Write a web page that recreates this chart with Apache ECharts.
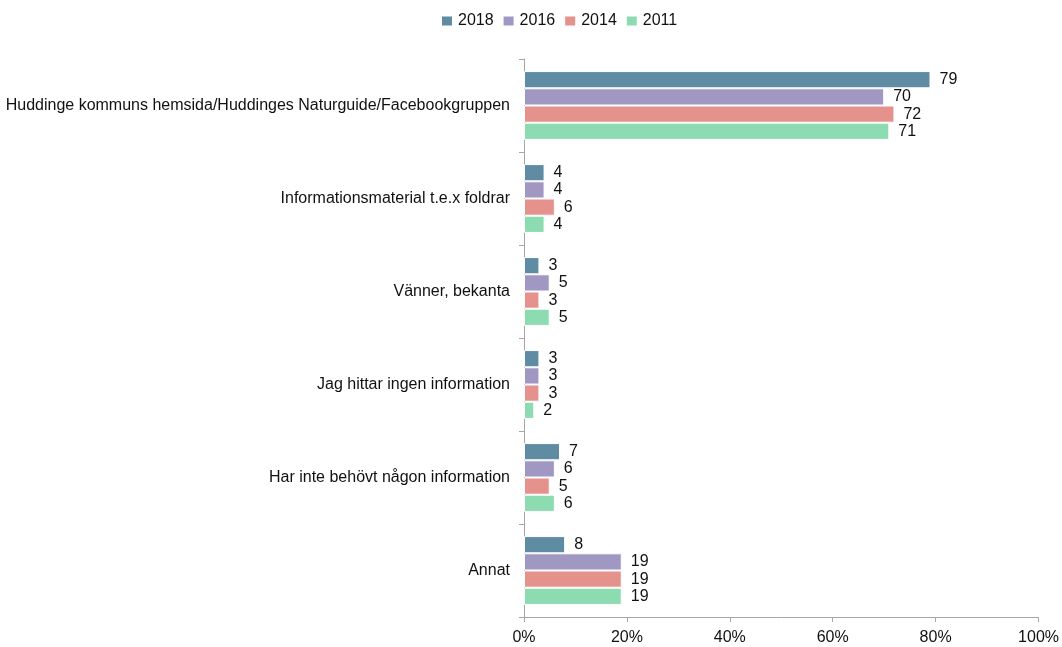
<!DOCTYPE html>
<html>
<head>
<meta charset="utf-8">
<script src="https://cdn.jsdelivr.net/npm/echarts@6/dist/echarts.min.js"></script>
<style>
  html, body { margin: 0; padding: 0; background: #fff; }
  #main { width: 1062px; height: 647px; }
</style>
</head>
<body>
<div id="main"></div>
<script>
var categories = [
    'Huddinge kommuns hemsida/Huddinges Naturguide/Facebookgruppen',
    'Informationsmaterial t.e.x foldrar',
    'Vänner, bekanta',
    'Jag hittar ingen information',
    'Har inte behövt någon information',
    'Annat'
];
var years = ['2018', '2016', '2014', '2011'];
var values2018 = [79, 4, 3, 3, 7, 8];
var values2016 = [70, 4, 5, 3, 6, 19];
var values2014 = [72, 6, 3, 3, 5, 19];
var values2011 = [71, 4, 5, 2, 6, 19];
var xTicks = [0, 20, 40, 60, 80, 100];

var colors = ['#5f8ca3', '#a098c2', '#e5918c', '#8ddbb0'];
var allValues = [values2018, values2016, values2014, values2011];
var font = 'Liberation Sans';

var chart = echarts.init(document.getElementById('main'));

var series = years.map(function (y, i) {
    return {
        name: y,
        type: 'bar',
        data: allValues[i],
        barGap: '0%',
        barCategoryGap: '26%',
        itemStyle: { color: colors[i], borderColor: '#fff', borderWidth: 1 },
        label: {
            show: true,
            position: 'right',
            distance: 9,
            color: '#111',
            fontFamily: font,
            fontSize: 16
        }
    };
});

var option = {
    animation: false,
    color: colors,
    legend: {
        top: 8,
        left: 435,
        data: years,
        itemWidth: 12,
        itemHeight: 11,
        itemGap: 8,
        icon: 'rect',
        textStyle: { fontFamily: font, fontSize: 16, color: '#111' }
    },
    grid: { left: 524, right: 22, top: 59, bottom: 30 },
    xAxis: {
        type: 'value',
        min: xTicks[0],
        max: xTicks[xTicks.length - 1],
        interval: 20,
        axisLine: { show: true, lineStyle: { color: '#a6a6a6' } },
        axisTick: { show: true, length: 5, inside: false, lineStyle: { color: '#a6a6a6' } },
        splitLine: { show: false },
        axisLabel: { formatter: '{value}%', color: '#111', fontFamily: font, fontSize: 16, margin: 13 }
    },
    yAxis: {
        type: 'category',
        inverse: true,
        data: categories,
        axisLine: { show: true, lineStyle: { color: '#a6a6a6' } },
        axisTick: { show: true, length: 5, lineStyle: { color: '#a6a6a6' } },
        axisLabel: { color: '#111', fontFamily: font, fontSize: 16, margin: 14 }
    },
    series: series
};

chart.setOption(option);
</script>
</body>
</html>
